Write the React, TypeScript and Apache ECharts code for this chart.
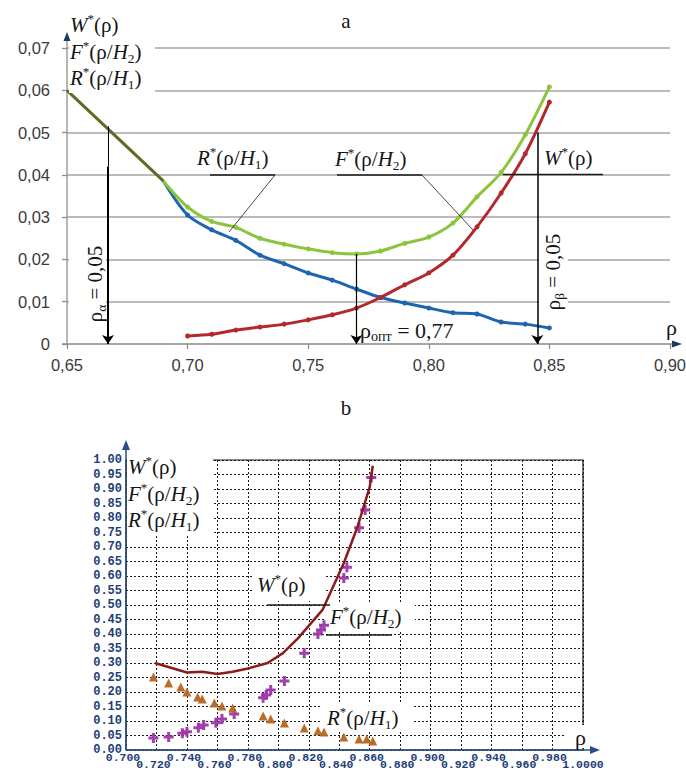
import React, { useEffect, useRef } from "react";
import * as echarts from "echarts";

// ---------- Chart a (top) ----------
const rhoOlive = [0.65, 0.69];
const oliveTop = [0.06, 0.0385];

const rhoTop = [0.69, 0.7, 0.71, 0.72, 0.73, 0.74, 0.75, 0.76, 0.77, 0.78, 0.79, 0.8, 0.81, 0.82, 0.83, 0.84, 0.85];
const rTop = [0.0385, 0.0305, 0.027, 0.0245, 0.021, 0.019, 0.0168, 0.0151, 0.013, 0.011, 0.0097, 0.0085, 0.0074, 0.0071, 0.0052, 0.0047, 0.0038];
const wTop = [0.0385, 0.0324, 0.029, 0.0276, 0.025, 0.0236, 0.0225, 0.0216, 0.0213, 0.022, 0.0238, 0.0253, 0.0286, 0.0348, 0.0406, 0.0495, 0.0608];

const rhoF = [0.7, 0.71, 0.72, 0.73, 0.74, 0.75, 0.76, 0.77, 0.78, 0.79, 0.8, 0.81, 0.82, 0.83, 0.84, 0.85];
const fTop = [0.0019, 0.0023, 0.0033, 0.004, 0.0047, 0.0057, 0.0069, 0.0085, 0.011, 0.014, 0.0168, 0.021, 0.0277, 0.0357, 0.045, 0.0572];

const rhoAlpha = 0.667;
const rhoOpt = 0.77;
const wOpt = 0.0213;
const rhoBeta = 0.845;

// ---------- Chart b (bottom) ----------
const rhoWBot = [0.719, 0.73, 0.74, 0.75, 0.76, 0.77, 0.78, 0.793, 0.803, 0.813, 0.829, 0.843, 0.852, 0.86, 0.862];
const wBot = [0.3, 0.283, 0.267, 0.27, 0.262, 0.27, 0.281, 0.3, 0.334, 0.386, 0.483, 0.645, 0.77, 0.907, 0.98];

const rhoFBot = [0.718, 0.728, 0.737, 0.74, 0.7475, 0.751, 0.759, 0.763, 0.771, 0.79, 0.792, 0.795, 0.804, 0.817, 0.826, 0.828, 0.83, 0.843, 0.845, 0.853, 0.857, 0.861];
const fBot = [0.041, 0.045, 0.058, 0.063, 0.077, 0.086, 0.094, 0.107, 0.124, 0.18, 0.19, 0.207, 0.238, 0.334, 0.4, 0.414, 0.43, 0.593, 0.63, 0.766, 0.828, 0.94];

const rhoRBot = [0.718, 0.728, 0.736, 0.74, 0.747, 0.75, 0.758, 0.763, 0.77, 0.79, 0.795, 0.804, 0.817, 0.826, 0.83, 0.843, 0.853, 0.858, 0.862];
const rBot = [0.252, 0.231, 0.217, 0.2, 0.183, 0.176, 0.162, 0.152, 0.145, 0.117, 0.107, 0.093, 0.076, 0.066, 0.062, 0.045, 0.038, 0.038, 0.031];

const SERIF = "'Liberation Serif', 'Times New Roman', serif";
const SANS = "'Liberation Sans', Arial, sans-serif";
const MONO = "'Liberation Mono', 'DejaVu Sans Mono', monospace";

const TOP = { left: 67, top: 48, width: 603, height: 296 };
const BOT = { left: 126, top: 460, width: 457, height: 290 };

function richFor(size: number) {
  const c = "#151515";
  return {
    i: { fontFamily: SERIF, fontStyle: "italic", fontSize: size, fill: c, lineHeight: size * 1.2 },
    n: { fontFamily: SERIF, fontSize: size, fill: c, lineHeight: size * 1.2 },
    sup: { fontFamily: SERIF, fontSize: size * 0.62, fill: c, verticalAlign: "top", lineHeight: size * 0.62 },
    sub: { fontFamily: SERIF, fontSize: size * 0.64, fill: c, verticalAlign: "bottom", lineHeight: size * 0.9 },
  };
}

const W_TXT = "{i|W}{sup|*}{n|(ρ)}";
const F_TXT = "{i|F}{sup|*}{n|(ρ/}{i|H}{sub|2}{n|)}";
const R_TXT = "{i|R}{sup|*}{n|(ρ/}{i|H}{sub|1}{n|)}";

function txt(text: string, x: number, y: number, size: number, extra: any = {}) {
  return {
    type: "text",
    x,
    y,
    z: 20,
    ...extra,
    style: {
      text,
      rich: richFor(size),
      fontFamily: SERIF,
      fontSize: size,
      fill: "#151515",
      align: extra.align || "left",
      verticalAlign: "middle",
    },
  };
}

function rect(x: number, y: number, w: number, h: number, z = 1) {
  return { type: "rect", z, shape: { x, y, width: w, height: h }, style: { fill: "#fff" } };
}

function seg(x1: number, y1: number, x2: number, y2: number, color: string, width: number, z = 15) {
  return { type: "line", z, shape: { x1, y1, x2, y2 }, style: { stroke: color, lineWidth: width } };
}

function tri(points: number[][], color: string) {
  return { type: "polygon", z: 15, shape: { points }, style: { fill: color } };
}

export default function App() {
  const ref = useRef<HTMLDivElement>(null);

  useEffect(() => {
    if (!ref.current) return;
    const chart = echarts.init(ref.current, undefined, { renderer: "svg" });

    const gray = "#8e8e8e";
    const navy = "#2b4f80";
    const labNavy = "#1d3d78";

    const botXLabel = (row: number) => (v: number) => {
      const k = Math.round(v * 100);
      if (k % 4 !== row) return "";
      return k === 100 ? "{b|1.0000}" : "{a|" + v.toFixed(3) + "}";
    };
    const monoRich = {
      a: { fontFamily: MONO, fontWeight: "bold", fontSize: 11.5, color: labNavy, padding: [0, 6, 0, 0], lineHeight: 7 },
      b: { fontFamily: MONO, fontWeight: "bold", fontSize: 11.5, color: labNavy, padding: [0, 0, 0, 0], lineHeight: 7 },
    };

    const option: any = {
      animation: false,
      backgroundColor: "#ffffff",
      grid: [
        { ...TOP, outerBoundsMode: "none", containLabel: false },
        { ...BOT, outerBoundsMode: "none", containLabel: false, show: true, borderColor: "#151515", borderWidth: 1.2, backgroundColor: "transparent" },
      ],
      xAxis: [
        {
          gridIndex: 0, type: "value", position: "bottom", min: 0.65, max: 0.9, interval: 0.05,
          axisLine: { show: false },
          axisTick: { show: true, length: 5, lineStyle: { color: gray, width: 1.3 } },
          splitLine: { show: false },
          axisLabel: {
            margin: 12, fontFamily: SANS, fontSize: 16.5, color: "#3a3a3a",
            formatter: (v: number) => v.toFixed(2).replace(".", ","),
            showMinLabel: true, showMaxLabel: true,
          },
        },
        {
          gridIndex: 1, type: "value", position: "bottom", min: 0.7, max: 1.0, interval: 0.02,
          axisLine: { show: false }, axisTick: { show: false },
          splitLine: { show: true, lineStyle: { color: "#1a1a1a", type: [2, 2], width: 1 } },
          axisLabel: { margin: 3.5, lineHeight: 7, formatter: botXLabel(2), rich: monoRich, showMinLabel: true, showMaxLabel: true },
        },
        {
          gridIndex: 1, type: "value", position: "bottom", offset: 0, min: 0.7, max: 1.0, interval: 0.02,
          axisLine: { show: false }, axisTick: { show: false }, splitLine: { show: false },
          axisLabel: { margin: 10.5, lineHeight: 7, formatter: botXLabel(0), rich: monoRich, showMinLabel: true, showMaxLabel: true },
        },
      ],
      yAxis: [
        {
          gridIndex: 0, type: "value", min: 0, max: 0.07, interval: 0.01,
          axisLine: { show: false },
          axisTick: { show: true, length: 5, lineStyle: { color: gray, width: 1.3 } },
          splitLine: { show: true, lineStyle: { color: "#a5a5a5", width: 1.5 } },
          axisLabel: {
            margin: 17, fontFamily: SANS, fontSize: 16.5, color: "#3a3a3a",
            formatter: (v: number) => (v === 0 ? "0" : v.toFixed(2).replace(".", ",")),
          },
        },
        {
          gridIndex: 1, type: "value", min: 0, max: 1, interval: 0.05,
          axisLine: { show: false }, axisTick: { show: false },
          splitLine: { show: true, lineStyle: { color: "#1a1a1a", type: [2, 2], width: 1 } },
          axisLabel: {
            margin: 4, fontFamily: MONO, fontWeight: "bold", fontSize: 12, color: labNavy, lineHeight: 7,
            formatter: (v: number) => v.toFixed(2),
            showMinLabel: true, showMaxLabel: true, hideOverlap: false,
          },
        },
      ],
      series: [
        {
          type: "line", xAxisIndex: 0, yAxisIndex: 0, z: 3,
          data: rhoOlive.map((r, i) => [r, oliveTop[i]]),
          symbol: "none", lineStyle: { color: "#5d6b24", width: 3 },
        },
        {
          type: "line", xAxisIndex: 0, yAxisIndex: 0, smooth: 0.3,
          data: rhoTop.map((r, i) => (i === 0 ? { value: [r, rTop[i]], symbol: "none" } : [r, rTop[i]])),
          symbol: "circle", symbolSize: 5, itemStyle: { color: "#1f64b0" },
          lineStyle: { color: "#1f64b0", width: 3 },
        },
        {
          type: "line", xAxisIndex: 0, yAxisIndex: 0, smooth: 0.3,
          data: rhoTop.map((r, i) => (i === 0 ? { value: [r, wTop[i]], symbol: "none" } : [r, wTop[i]])),
          symbol: "circle", symbolSize: 5, itemStyle: { color: "#8cc43e" },
          lineStyle: { color: "#8cc43e", width: 3 },
        },
        {
          type: "line", xAxisIndex: 0, yAxisIndex: 0, smooth: 0.3,
          data: rhoF.map((r, i) => [r, fTop[i]]),
          symbol: "circle", symbolSize: 5, itemStyle: { color: "#b3282d" },
          lineStyle: { color: "#b3282d", width: 3 },
          markLine: {
            silent: true, symbol: ["none", "arrow"], symbolSize: 9,
            label: { show: false }, emphasis: { disabled: true },
            lineStyle: { color: "#000", type: "solid", width: 1.5 },
            data: [
              [{ coord: [rhoAlpha, 0.0515], lineStyle: { width: 1, color: "#000", type: "solid" } }, { coord: [rhoAlpha, 0.042], symbol: "none" }],
              [{ coord: [rhoAlpha, 0.042], lineStyle: { width: 2, color: "#000", type: "solid" } }, { coord: [rhoAlpha, 0] }],
              [{ coord: [rhoOpt, wOpt], lineStyle: { width: 1.2, color: "#000", type: "solid" } }, { coord: [rhoOpt, 0] }],
              [{ coord: [rhoBeta, 0.05], lineStyle: { width: 1.5, color: "#000", type: "solid" } }, { coord: [rhoBeta, 0] }],
            ],
          },
        },
        {
          type: "line", xAxisIndex: 1, yAxisIndex: 1,
          data: rhoWBot.map((r, i) => [r, wBot[i]]),
          symbol: "none", lineStyle: { color: "#8b1c1c", width: 2.5 },
        },
        {
          type: "scatter", xAxisIndex: 1, yAxisIndex: 1,
          data: rhoFBot.map((r, i) => [r, fBot[i]]),
          symbol: "path://M3.5,0H6.5V3.5H10V6.5H6.5V10H3.5V6.5H0V3.5H3.5Z", symbolSize: 10,
          itemStyle: { color: "#9c36a8", opacity: 0.95 },
        },
        {
          type: "scatter", xAxisIndex: 1, yAxisIndex: 1,
          data: rhoRBot.map((r, i) => [r, rBot[i]]),
          symbol: "triangle", symbolSize: 9,
          itemStyle: { color: "#b5651d", opacity: 0.95 },
        },
      ],
      graphic: [
        // axes of chart a
        seg(67, 344, 67, 37, gray, 1.3, 0),
        seg(62, 344, 675, 344, gray, 1.5, 0),
        tri([[67, 32], [63.5, 41], [70.5, 41]], "#1f3a60"),
        tri([[682, 344], [672, 340.5], [672, 347.5]], "#1f3a60"),
        // axes of chart b
        seg(126, 750, 126, 446, navy, 1.5, 14),
        seg(126, 750, 593, 750, navy, 1.5, 14),
        tri([[126, 440], [122, 450], [130, 450]], navy),
        tri([[600, 750], [590, 746], [590, 754]], navy),

        // white boxes (chart a)
        rect(69, 7, 86, 86, 10),
        rect(69, 222, 37, 114, 1),
        rect(539, 224, 29, 94, 1),
        // white boxes (chart b)
        rect(127, 452, 86, 83, 10),
        rect(254, 567, 70, 34, 1),
        rect(324, 602, 91, 30, 1),
        rect(320, 702, 92, 29, 1),
        rect(566, 725, 32, 23, 1),

        // titles
        { type: "text", x: 346, y: 21, z: 20, style: { text: "a", fontFamily: SERIF, fontSize: 21, fill: "#151515", align: "center", verticalAlign: "middle" } },
        { type: "text", x: 346, y: 408, z: 20, style: { text: "b", fontFamily: SERIF, fontSize: 21, fill: "#151515", align: "center", verticalAlign: "middle" } },

        // chart a labels
        txt(W_TXT, 70, 25, 21),
        txt(F_TXT, 70, 52, 21),
        txt(R_TXT, 70, 78, 21),
        txt(R_TXT, 197, 158, 21),
        txt(F_TXT, 335, 159, 21),
        txt(W_TXT, 544, 158, 21),
        seg(210, 175, 275, 175, "#1a1a1a", 1.5),
        seg(275, 175, 229, 232, "#1a1a1a", 0.8),
        seg(337, 175, 422, 175, "#1a1a1a", 1.5),
        seg(422, 175, 473, 230, "#1a1a1a", 0.8),
        seg(503, 174.5, 603, 174.5, "#1a1a1a", 1.5),
        txt("{n|ρ}{sub|α}{n| = 0,05}", 95, 284, 21, { rotation: Math.PI / 2, align: "center" }),
        txt("{n|ρ}{sub|β}{n| = 0,05}", 553, 272, 21, { rotation: Math.PI / 2, align: "center" }),
        txt("{n|ρ}{sub|опт}{n| = 0,77}", 360, 330, 22),
        txt("{n|ρ}", 666, 327, 22),

        // chart b labels
        txt(W_TXT, 128, 467, 21),
        txt(F_TXT, 128, 494, 21),
        txt(R_TXT, 128, 520, 21),
        txt(W_TXT, 257, 585, 21),
        txt(F_TXT, 330, 617, 21),
        txt(R_TXT, 327, 718, 21),
        seg(267, 605, 330, 605, "#1a1a1a", 1.5),
        seg(326, 635, 392, 635, "#1a1a1a", 1.5),
        txt("{n|ρ}", 575, 737, 22),
      ],
    };

    chart.setOption(option);
    return () => chart.dispose();
  }, []);

  return <div ref={ref} style={{ position: "absolute", left: 0, top: 0, width: 686, height: 771 }} />;
}
